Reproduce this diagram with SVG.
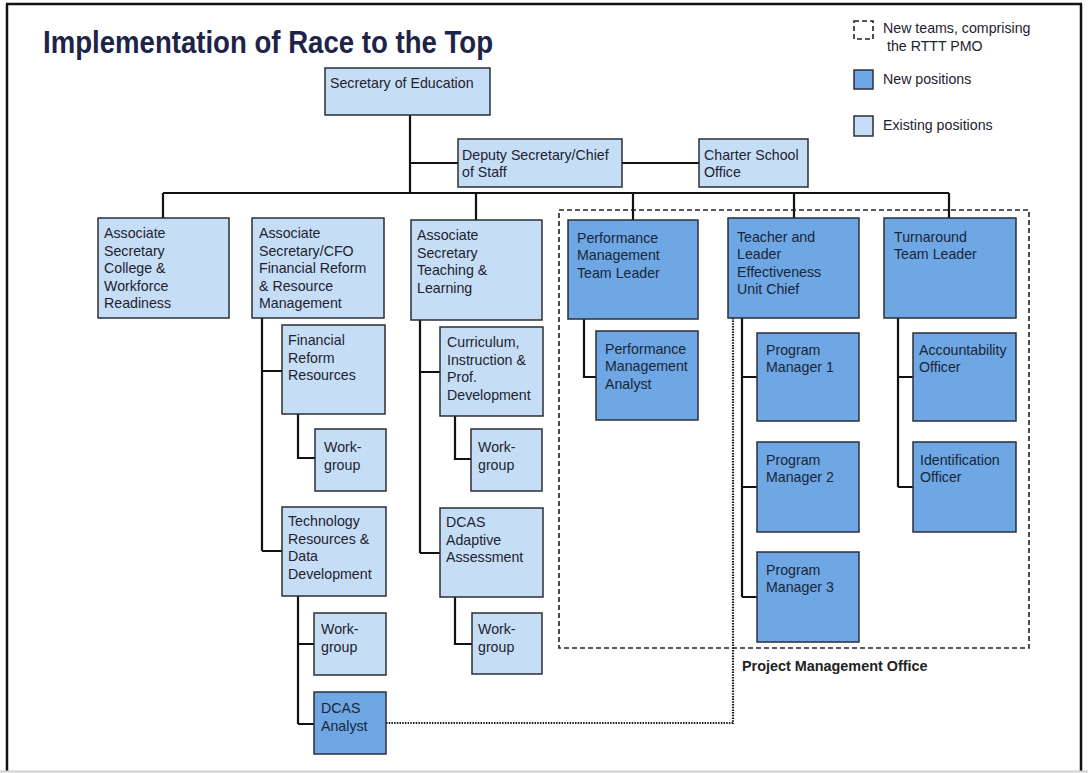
<svg xmlns="http://www.w3.org/2000/svg" width="1088" height="773" viewBox="0 0 1088 773">
<style>
.ex{fill:#c6def5;stroke:#2a2f38;stroke-width:1.5}
.nw{fill:#6ea7e3;stroke:#2a2f38;stroke-width:1.5}
.t{font-family:"Liberation Sans",Arial,sans-serif;font-size:14.2px;fill:#1e2230}
.tn{font-family:"Liberation Sans",Arial,sans-serif;font-size:14.2px;fill:#17263a}
.c{fill:none;stroke:#111;stroke-width:2.2}
.dash{fill:none;stroke:#222;stroke-width:1.6;stroke-dasharray:5 3}
.dot{fill:none;stroke:#1a1a1a;stroke-width:2.2;stroke-dasharray:1.5 1.2}
</style>
<rect x="0" y="0" width="1088" height="773" fill="#fff"/>
<g id="frame">
<line x1="6" y1="4" x2="1082" y2="4" stroke="#111" stroke-width="2.5"/>
<line x1="7" y1="4" x2="7" y2="771" stroke="#111" stroke-width="2.5"/>
<line x1="1081" y1="4" x2="1081" y2="771" stroke="#111" stroke-width="2.5"/>
<line x1="0" y1="771.5" x2="1088" y2="771.5" stroke="#cfcfcf" stroke-width="2"/>
</g>
<text x="43" y="53" font-family="Liberation Sans,Arial,sans-serif" font-size="31" font-weight="bold" fill="#1e2447" textLength="450" lengthAdjust="spacingAndGlyphs">Implementation of Race to the Top</text>

<g id="legend">
<rect x="854" y="21" width="19" height="18" class="dash" stroke-dasharray="3 2.5"/>
<text class="t" x="883" y="33" fill="#333">New teams, comprising</text>
<text class="t" x="887" y="51" fill="#333">the RTTT PMO</text>
<rect x="854" y="70" width="19" height="19" class="nw"/>
<text class="t" x="883" y="84">New positions</text>
<rect x="854" y="116" width="19" height="20" class="ex"/>
<text class="t" x="883" y="130">Existing positions</text>
</g>

<g id="pmo">
<rect x="559" y="210" width="470" height="438" class="dash"/>
<text x="742" y="671" font-family="Liberation Sans,Arial,sans-serif" font-size="14.4" font-weight="bold" fill="#222">Project Management Office</text>
</g>

<g id="connectors">
<path class="c" d="M410 115V193M410 163H458M622 163H699M163 193H949M163 193V218M476 193V221M633 193V220M794 193V218M949 193V218"/>
<path class="c" d="M262 318V551M262 371H282M262 551H282M298 414V458H315M298 596V724M298 644H314M298 724H314"/>
<path class="c" d="M420 320V553M420 372H440M420 553H440M455 416V459H471M455 597V644H472"/>
<path class="c" d="M584 319V377H596M742 318V597M742 377H757M742 487H757M742 597H757M898 318V487M898 377H913M898 487H913"/>
<path class="dot" d="M386 723H733V318"/>
</g>

<g id="secretary"><rect x="325" y="68" width="165" height="47" class="ex"/><text class="t" x="330" y="88">Secretary of Education</text></g>
<g id="deputy"><rect x="458" y="139" width="164" height="48" class="ex"/><text class="t" x="462" y="160">Deputy Secretary/Chief<tspan x="462" dy="17">of Staff</tspan></text></g>
<g id="charter"><rect x="699" y="139" width="109" height="48" class="ex"/><text class="t" x="704" y="160">Charter School<tspan x="704" dy="17">Office</tspan></text></g>

<g id="college"><rect x="98" y="218" width="131" height="100" class="ex"/><text class="t" x="104" y="238">Associate<tspan x="104" dy="17.5">Secretary</tspan><tspan x="104" dy="17.5">College &amp;</tspan><tspan x="104" dy="17.5">Workforce</tspan><tspan x="104" dy="17.5">Readiness</tspan></text></g>
<g id="cfo"><rect x="252" y="218" width="132" height="100" class="ex"/><text class="t" x="259" y="238">Associate<tspan x="259" dy="17.5">Secretary/CFO</tspan><tspan x="259" dy="17.5">Financial Reform</tspan><tspan x="259" dy="17.5">&amp; Resource</tspan><tspan x="259" dy="17.5">Management</tspan></text></g>
<g id="teaching"><rect x="411" y="220" width="131" height="100" class="ex"/><text class="t" x="417" y="240">Associate<tspan x="417" dy="17.5">Secretary</tspan><tspan x="417" dy="17.5">Teaching &amp;</tspan><tspan x="417" dy="17.5">Learning</tspan></text></g>

<g id="frr"><rect x="282" y="325" width="103" height="89" class="ex"/><text class="t" x="288" y="345">Financial<tspan x="288" dy="17.5">Reform</tspan><tspan x="288" dy="17.5">Resources</tspan></text></g>
<g id="wg1"><rect x="315" y="429" width="71" height="62" class="ex"/><text class="t" x="324" y="452">Work-<tspan x="324" dy="17.5">group</tspan></text></g>
<g id="tech"><rect x="282" y="507" width="104" height="89" class="ex"/><text class="t" x="288" y="526">Technology<tspan x="288" dy="17.5">Resources &amp;</tspan><tspan x="288" dy="17.5">Data</tspan><tspan x="288" dy="17.5">Development</tspan></text></g>
<g id="wg3"><rect x="314" y="613" width="72" height="62" class="ex"/><text class="t" x="321" y="634">Work-<tspan x="321" dy="17.5">group</tspan></text></g>
<g id="dcas-analyst"><rect x="314" y="692" width="72" height="62" class="nw"/><text class="tn" x="321" y="713">DCAS<tspan x="321" dy="17.5">Analyst</tspan></text></g>

<g id="cipd"><rect x="440" y="327" width="103" height="89" class="ex"/><text class="t" x="447" y="347">Curriculum,<tspan x="447" dy="17.5">Instruction &amp;</tspan><tspan x="447" dy="17.5">Prof.</tspan><tspan x="447" dy="17.5">Development</tspan></text></g>
<g id="wg2"><rect x="471" y="429" width="71" height="62" class="ex"/><text class="t" x="478" y="452">Work-<tspan x="478" dy="17.5">group</tspan></text></g>
<g id="dcas-aa"><rect x="440" y="508" width="103" height="89" class="ex"/><text class="t" x="446" y="527">DCAS<tspan x="446" dy="17.5">Adaptive</tspan><tspan x="446" dy="17.5">Assessment</tspan></text></g>
<g id="wg4"><rect x="472" y="613" width="70" height="61" class="ex"/><text class="t" x="478" y="634">Work-<tspan x="478" dy="17.5">group</tspan></text></g>

<g id="perf-tl"><rect x="568" y="220" width="130" height="99" class="nw"/><text class="tn" x="577" y="243">Performance<tspan x="577" dy="17.3">Management</tspan><tspan x="577" dy="17.3">Team Leader</tspan></text></g>
<g id="perf-a"><rect x="596" y="331" width="102" height="89" class="nw"/><text class="tn" x="605" y="354">Performance<tspan x="605" dy="17.3">Management</tspan><tspan x="605" dy="17.3">Analyst</tspan></text></g>

<g id="teacher"><rect x="728" y="218" width="131" height="100" class="nw"/><text class="tn" x="737" y="242">Teacher and<tspan x="737" dy="17.3">Leader</tspan><tspan x="737" dy="17.3">Effectiveness</tspan><tspan x="737" dy="17.3">Unit Chief</tspan></text></g>
<g id="pm1"><rect x="757" y="333" width="102" height="88" class="nw"/><text class="tn" x="766" y="355">Program<tspan x="766" dy="17.3">Manager 1</tspan></text></g>
<g id="pm2"><rect x="757" y="442" width="102" height="90" class="nw"/><text class="tn" x="766" y="465">Program<tspan x="766" dy="17.3">Manager 2</tspan></text></g>
<g id="pm3"><rect x="757" y="552" width="102" height="90" class="nw"/><text class="tn" x="766" y="575">Program<tspan x="766" dy="17.3">Manager 3</tspan></text></g>

<g id="turnaround"><rect x="884" y="218" width="132" height="100" class="nw"/><text class="tn" x="894" y="242">Turnaround<tspan x="894" dy="17.3">Team Leader</tspan></text></g>
<g id="accountability"><rect x="913" y="333" width="103" height="88" class="nw"/><text class="tn" x="919" y="355">Accountability<tspan x="919" dy="17.3">Officer</tspan></text></g>
<g id="identification"><rect x="913" y="442" width="103" height="90" class="nw"/><text class="tn" x="920" y="465">Identification<tspan x="920" dy="17.3">Officer</tspan></text></g>
</svg>
